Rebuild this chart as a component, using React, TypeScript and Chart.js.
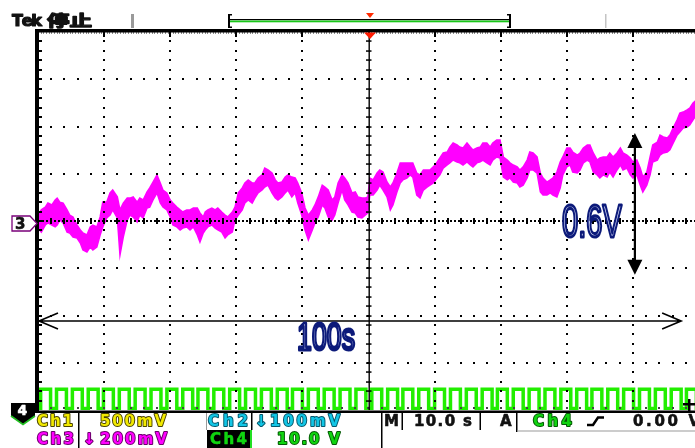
import React, { useEffect, useRef } from "react";
import { Chart, registerables } from "chart.js";

Chart.register(...registerables);

// Ch3 (magenta, 200 mV/div): envelope of the noisy trace, time in s from the left edge
const ch3TimeS = [
  0, 0.5, 1.1, 1.5, 2.1, 2.6, 2.9, 3.3, 3.8, 4.4,
  4.8, 5.3, 5.9, 6.4, 6.8, 7.4, 7.9, 8.3, 8.9, 9.4,
  9.8, 10.4, 10.9, 11.3, 12.0, 12.4, 12.9, 13.5, 13.9, 14.4,
  15.0, 15.4, 15.9, 16.5, 16.9, 17.4, 18.0, 18.5, 18.9, 19.5,
  20.0, 20.4, 21.0, 21.5, 21.9, 22.5, 23.0, 23.5, 24.1, 24.5,
  25.0, 25.3, 25.7, 26.3, 26.8, 27.2, 27.8, 28.3, 28.7, 29.4,
  29.8, 30.3, 30.9, 31.3, 31.8, 32.4, 32.8, 33.3, 33.9, 34.3,
  34.8, 35.4, 35.9, 36.3, 36.9, 37.4, 37.8, 38.4, 38.9, 39.3,
  39.9, 40.4, 40.9, 41.5, 41.9, 42.4, 43.0, 43.4, 43.9, 44.5,
  44.9, 45.4, 46.0, 46.4, 46.9, 47.5, 48.0, 48.4, 49.0, 49.5,
  49.9, 50.2, 50.7, 51.3, 51.7, 52.2, 52.8, 53.3, 53.7, 54.3,
  54.8, 55.2, 55.8, 56.3, 56.7, 57.3, 57.8, 58.3, 58.9, 59.3,
  59.8, 60.4, 60.8, 61.3, 61.9, 62.3, 62.8, 63.4, 63.8, 64.3,
  64.9, 65.4, 65.8, 66.4, 66.9, 67.3, 67.9, 68.4, 68.8, 69.4,
  69.9, 70.4, 71.0, 71.4, 71.9, 72.5, 72.9, 73.4, 74.0, 74.4,
  74.9, 75.5, 76.0, 76.4, 77.0, 77.5, 77.9, 78.5, 79.0, 79.4,
  80.0, 80.5, 80.9, 81.6, 82.0, 82.5, 83.1, 83.5, 84.0, 84.6,
  85.0, 85.5, 86.1, 86.5, 87.0, 87.6, 88.1, 88.5, 89.1, 89.6,
  90.0, 90.6, 91.1, 91.5, 92.1, 92.6, 93.0, 93.7, 94.1, 94.6,
  95.2, 95.6, 96.1, 96.7, 97.1, 97.6, 98.2, 98.6, 99.1, 99.6,
];
const ch3HighMv = [
  25, 47, 59, 76, 68, 89, 97, 80, 76, 47,
  25, 17, -17, -38, -51, -59, -25, -17, -25, 17,
  80, 80, 119, 131, 102, 47, 76, 97, 97, 102,
  80, 97, 89, 123, 140, 165, 195, 161, 131, 119,
  89, 76, 59, 47, 38, 47, 47, 55, 55, 34,
  17, 38, 47, 55, 47, 55, 38, 25, 17, 38,
  59, 119, 140, 161, 174, 161, 161, 182, 195, 224,
  216, 203, 174, 161, 165, 186, 195, 186, 182, 161,
  119, 55, 25, 47, 68, 102, 152, 144, 131, 89,
  102, 161, 195, 182, 161, 119, 123, 102, 97, 97,
  102, 182, 174, 203, 216, 207, 165, 144, 161, 203,
  246, 246, 246, 246, 246, 203, 195, 216, 216, 216,
  229, 250, 267, 288, 292, 313, 330, 322, 313, 309,
  330, 313, 301, 309, 313, 330, 330, 313, 330, 343,
  343, 271, 258, 246, 237, 229, 216, 229, 258, 292,
  288, 271, 203, 182, 165, 174, 182, 207, 250, 271,
  309, 309, 292, 279, 288, 309, 322, 322, 288, 258,
  267, 271, 271, 288, 271, 288, 309, 288, 279, 267,
  250, 258, 224, 186, 207, 271, 322, 334, 364, 356,
  351, 364, 394, 428, 457, 461, 470, 478, 499, 512,
];
const ch3LowMv = [
  -30, -47, -17, -8, -17, -25, -17, 4, -8, -47,
  -51, -68, -72, -93, -123, -131, -110, -123, -110, -59,
  -25, 13, 25, 47, 13, -144, -68, 4, 25, 17,
  -4, 25, 13, 55, 59, 89, 119, 76, 59, 47,
  17, -17, -25, -38, -30, -25, -38, -25, -59, -89,
  -51, -38, -25, -17, -30, -38, -47, -72, -59, -47,
  4, 25, 47, 76, 89, 76, 97, 119, 131, 144,
  152, 119, 97, 89, 102, 119, 131, 102, 119, 76,
  25, -38, -80, -38, -8, 17, 68, 55, 17, 4,
  25, 76, 131, 89, 68, 38, 34, 17, 13, 25,
  34, 110, 110, 131, 152, 131, 102, 47, 68, 123,
  161, 174, 182, 195, 186, 110, 97, 131, 144, 152,
  161, 182, 195, 224, 237, 246, 258, 250, 246, 237,
  250, 237, 229, 246, 250, 258, 246, 237, 258, 271,
  267, 186, 174, 182, 165, 161, 144, 152, 182, 216,
  216, 203, 123, 110, 110, 119, 110, 102, 140, 195,
  229, 237, 207, 203, 216, 246, 258, 250, 207, 195,
  182, 195, 186, 207, 186, 216, 237, 216, 224, 195,
  182, 195, 152, 123, 152, 195, 250, 258, 279, 288,
  292, 301, 330, 364, 377, 394, 398, 406, 428, 449,
];

// Ch4 (green, 10 V/div): clock, rising edge times in s
const ch4RisingS = [
  0.4, 2.8, 5.2, 7.6, 9.9, 12.3, 14.7, 17.1, 19.5, 21.9,
  24.2, 26.6, 29.0, 31.4, 33.8, 36.2, 38.5, 40.9, 43.3, 45.7,
  48.1, 50.5, 52.9, 55.2, 57.6, 60.0, 62.4, 64.8, 67.2, 69.5,
  71.9, 74.3, 76.7, 79.1, 81.5, 83.8, 86.2, 88.6, 91.0, 93.4,
  95.8, 98.1,
];
const ch4HighDurationS = 1.5;
const ch4HighV = 4.4;
const ch4LowV = 0.3;

// scope settings
const timeSpanS = 100; // 10 s/div x 10 div
const ch3VoltsPerDiv = 0.2;
const ch4VoltsPerDiv = 10;
const ch4GroundDiv = -4;
const yHalfDivs = 4;

// annotations
const measTimeS = 90.3;
const measTopV = 0.372;
const measDeltaV = 0.6;
const spanArrowV = -0.423;
const spanArrowEndS = 97.3;

// ---------------- drawing helpers ----------------
const MAG = "#ff00ff";
const GRN = "#22ee00";
const NAVY = "#0c1a7a";
const SF = "bold 15px 'DejaVu Sans'";

function spaced(ctx: any, text: string, x: number, y: number, width: number, font: string, fill: string, stroke?: string, sw = 2) {
  ctx.save();
  ctx.font = font;
  ctx.textAlign = "left";
  ctx.textBaseline = "alphabetic";
  const chars = Array.from(text);
  const ws = chars.map((c) => ctx.measureText(c).width);
  const total = ws.reduce((a: number, b: number) => a + b, 0);
  const gap = chars.length > 1 ? (width - total) / (chars.length - 1) : 0;
  const pass = (fn: (c: string, cx: number) => void) => {
    let cx = x;
    chars.forEach((c, i) => {
      fn(c, cx);
      cx += ws[i] + gap;
    });
  };
  ctx.strokeStyle = stroke || fill;
  ctx.lineWidth = stroke ? sw : 0.6;
  ctx.lineJoin = "round";
  pass((c, cx) => ctx.strokeText(c, cx, y));
  ctx.fillStyle = fill;
  pass((c, cx) => ctx.fillText(c, cx, y));
  ctx.restore();
}

function scaled(ctx: any, text: string, x: number, y: number, width: number, font: string, fill: string, stroke?: string, sw = 2) {
  ctx.save();
  ctx.font = font;
  ctx.textAlign = "left";
  ctx.textBaseline = "alphabetic";
  const w = ctx.measureText(text).width;
  ctx.translate(x, y);
  ctx.scale(width / w, 1);
  ctx.fillStyle = fill;
  ctx.fillText(text, 0, 0);
  if (stroke) {
    ctx.strokeStyle = stroke;
    ctx.lineWidth = sw;
    ctx.lineJoin = "round";
    ctx.strokeText(text, 0, 0);
  }
  ctx.restore();
}

const scopePlugin = {
  id: "scope",
  beforeDraw(chart: any) {
    const ctx = chart.ctx;
    ctx.save();
    ctx.fillStyle = "#ffffff";
    ctx.fillRect(0, 0, chart.width, chart.height);
    ctx.restore();
  },
  afterDatasetsDraw(chart: any) {
    const ctx = chart.ctx;
    const { left, right, top, bottom } = chart.chartArea;
    const dx = (right - left) / 10;
    const dy = (bottom - top) / 8;
    const cx = left + 5 * dx;
    const cy = top + 4 * dy;
    ctx.save();
    ctx.fillStyle = "#000";
    for (let k = 1; k < 10; k++) {
      if (k === 5) continue;
      const x = Math.round(left + k * dx);
      for (let j = 1; j < 40; j++) ctx.fillRect(x - 1, Math.round(top + (j * dy) / 5) - 1, 2, 2);
    }
    for (let j = 1; j < 8; j++) {
      if (j === 4) continue;
      const y = Math.round(top + j * dy);
      for (let k = 1; k < 50; k++) ctx.fillRect(Math.round(left + (k * dx) / 5) - 1, y - 1, 2, 2);
    }
    for (let j = 1; j < 40; j++) ctx.fillRect(left + 1, Math.round(top + (j * dy) / 5) - 1, 3, 2);
    ctx.fillStyle = "#444";
    for (let k = 1; k < 50; k++) ctx.fillRect(Math.round(left + (k * dx) / 5) - 1, bottom - 3, 2, 2);
    ctx.fillStyle = "#8a8a8a";
    for (let x = left; x < right; x += dx / 25) ctx.fillRect(Math.round(x), top, 1, 2);
    ctx.fillStyle = "#000";
    for (let k = 1; k < 10; k++) ctx.fillRect(Math.round(left + k * dx) - 1, top, 2, 5);
    ctx.fillRect(Math.round(cx) - 0.5, top, 1.4, bottom - top);
    for (let j = 1; j < 40; j++) ctx.fillRect(cx - 2.5, Math.round(top + (j * dy) / 5) - 0.7, 5.5, 1.5);
    ctx.strokeStyle = "#000";
    ctx.lineWidth = 2;
    ctx.setLineDash([2, 2]);
    ctx.beginPath();
    ctx.moveTo(left, cy);
    ctx.lineTo(right, cy);
    ctx.stroke();
    ctx.setLineDash([]);
    for (let k = 1; k < 50; k++) ctx.fillRect(Math.round(left + (k * dx) / 5) - 1, cy - 3, 2, 6);
    ctx.restore();
  },
  afterDraw(chart: any) {
    const ctx = chart.ctx;
    const xs = chart.scales.x;
    const ys = chart.scales.y;
    const { top, bottom } = chart.chartArea;
    ctx.save();
    ctx.fillStyle = "#000";
    ctx.fillRect(35, top - 3, 670, 3.5);
    ctx.fillRect(35, top - 3, 4, bottom + 3 - (top - 3));
    ctx.fillRect(35, bottom + 0.5, 670, 2.5);

    ctx.fillStyle = "#ff1a00";
    ctx.beginPath();
    ctx.moveTo(364, top + 0.5);
    ctx.lineTo(376, top + 0.5);
    ctx.lineTo(370, top + 7);
    ctx.closePath();
    ctx.fill();

    // ---- top status bar ----
    spaced(ctx, "Tek", 12, 25.5, 30, "bold 16px 'DejaVu Sans'", "#111", "#111", 1.2);
    scaled(ctx, "停止", 47, 26, 45, "bold 15px 'Noto Sans CJK SC'", "#111", "#111", 1.3);
    ctx.fillStyle = "#9a9a9a";
    ctx.fillRect(131, 14, 3, 14);
    ctx.fillStyle = "#c4c4c4";
    ctx.fillRect(605, 14, 1.5, 14);
    ctx.fillStyle = "#000";
    ctx.fillRect(228, 14, 2, 14);
    ctx.fillRect(228, 14, 4, 1.5);
    ctx.fillRect(228, 26.5, 4, 1.5);
    ctx.fillRect(509, 14, 2, 14);
    ctx.fillRect(507, 14, 4, 1.5);
    ctx.fillRect(507, 26.5, 4, 1.5);
    ctx.fillRect(230, 19, 279, 1.2);
    ctx.fillStyle = "#18c818";
    ctx.fillRect(230, 20.5, 279, 1.8);
    ctx.fillStyle = "#ff2a00";
    ctx.beginPath();
    ctx.moveTo(366, 13);
    ctx.lineTo(374, 13);
    ctx.lineTo(370, 18);
    ctx.closePath();
    ctx.fill();

    // ---- channel markers ----
    const c3y = ys.getPixelForValue(0) + 2.5;
    ctx.beginPath();
    ctx.moveTo(12, c3y - 7.5);
    ctx.lineTo(30, c3y - 7.5);
    ctx.lineTo(37, c3y);
    ctx.lineTo(30, c3y + 7.5);
    ctx.lineTo(12, c3y + 7.5);
    ctx.closePath();
    ctx.fillStyle = "#fff";
    ctx.fill();
    ctx.strokeStyle = "#7a007a";
    ctx.lineWidth = 1.3;
    ctx.stroke();
    spaced(ctx, "3", 15, c3y + 5.5, 10, "bold 15px 'DejaVu Sans'", "#111");

    ctx.beginPath();
    ctx.moveTo(11, 403);
    ctx.lineTo(35, 403);
    ctx.lineTo(35, 416);
    ctx.lineTo(23, 424.5);
    ctx.lineTo(11, 416);
    ctx.closePath();
    ctx.fillStyle = "#000";
    ctx.fill();
    ctx.strokeStyle = "#22c022";
    ctx.lineWidth = 1.6;
    ctx.beginPath();
    ctx.moveTo(11, 416);
    ctx.lineTo(23, 424.5);
    ctx.lineTo(35, 416);
    ctx.stroke();
    spaced(ctx, "4", 17.5, 414.5, 10, "bold 14px 'DejaVu Sans'", "#fff");

    ctx.fillStyle = "#000";
    ctx.fillRect(683, 403, 12, 2.5);
    ctx.fillRect(688, 399, 2.5, 12);

    // ---- bottom status area ----
    ctx.fillStyle = "#000";
    ctx.fillRect(78, 413, 1.5, 35);
    ctx.fillRect(251, 413, 1.5, 17);
    ctx.fillRect(381, 413, 1.5, 35);
    ctx.fillRect(401.5, 413, 1.5, 17);
    ctx.fillRect(479.5, 413, 1.5, 17);
    ctx.fillRect(516, 413, 1.5, 19);
    ctx.fillStyle = "#9a9a9a";
    ctx.fillRect(206, 413, 1, 17);
    ctx.fillRect(517, 430.5, 180, 1);

    const Y = "#f2ea00", YS = "#4a4400";
    const C = "#12c6e6", CS = "#05586c";
    const MS = "#6a006a";
    const G = "#10d410", GS = "#045a04";
    spaced(ctx, "Ch1", 37, 426, 36, SF, Y, YS);
    spaced(ctx, "500mV", 100, 426, 66, SF, Y, YS);
    spaced(ctx, "Ch2", 208, 426, 40, SF, C, CS);
    spaced(ctx, "↓", 255, 426, 8, SF, C, CS);
    spaced(ctx, "100mV", 270, 426, 70, SF, C, CS);
    spaced(ctx, "M", 384, 426, 13, SF, "#111");
    spaced(ctx, "10.0 s", 414, 426, 58, SF, "#111");
    spaced(ctx, "A", 500, 426, 15, SF, "#111");
    spaced(ctx, "Ch4", 533, 426, 39, SF, G, GS);
    ctx.strokeStyle = "#000";
    ctx.lineWidth = 2.5;
    ctx.beginPath();
    ctx.moveTo(587, 425);
    ctx.lineTo(593, 425);
    ctx.lineTo(598, 417.5);
    ctx.lineTo(604, 417.5);
    ctx.stroke();
    spaced(ctx, "0.00 V", 633, 426, 67, SF, "#111");

    spaced(ctx, "Ch3", 37, 443.5, 37, SF, MAG, MS);
    spaced(ctx, "↓", 83, 443.5, 8, SF, MAG, MS);
    spaced(ctx, "200mV", 100, 443.5, 67, SF, MAG, MS);
    ctx.fillStyle = "#000";
    ctx.fillRect(207, 430, 43, 18);
    ctx.fillStyle = "#22e022";
    ctx.fillRect(250, 430, 2, 18);
    spaced(ctx, "Ch4", 210, 443.5, 37, SF, G);
    spaced(ctx, "10.0 V", 277, 443.5, 63, SF, G, GS);

    // ---- annotations ----
    const ax = xs.getPixelForValue(measTimeS);
    const aTop = ys.getPixelForValue(measTopV / ch3VoltsPerDiv);
    const aBot = ys.getPixelForValue((measTopV - measDeltaV) / ch3VoltsPerDiv);
    ctx.strokeStyle = "#000";
    ctx.fillStyle = "#000";
    ctx.lineWidth = 2.2;
    ctx.beginPath();
    ctx.moveTo(ax, aTop + 10);
    ctx.lineTo(ax, aBot - 10);
    ctx.stroke();
    ctx.beginPath();
    ctx.moveTo(ax, aTop);
    ctx.lineTo(ax - 7.5, aTop + 15);
    ctx.lineTo(ax + 7.5, aTop + 15);
    ctx.closePath();
    ctx.fill();
    ctx.beginPath();
    ctx.moveTo(ax, aBot);
    ctx.lineTo(ax - 7.5, aBot - 15);
    ctx.lineTo(ax + 7.5, aBot - 15);
    ctx.closePath();
    ctx.fill();
    scaled(ctx, "0.6V", 562, 237, 60, "47px 'Liberation Sans'", "#dfe4ff", NAVY, 3.2);

    const hy = ys.getPixelForValue(spanArrowV / ch3VoltsPerDiv);
    const hx0 = xs.getPixelForValue(0) + 1;
    const hx1 = xs.getPixelForValue(spanArrowEndS);
    ctx.strokeStyle = "#000";
    ctx.lineWidth = 1.6;
    ctx.beginPath();
    ctx.moveTo(hx0, hy);
    ctx.lineTo(hx1, hy);
    ctx.moveTo(hx0 + 19, hy - 8);
    ctx.lineTo(hx0, hy);
    ctx.lineTo(hx0 + 19, hy + 8);
    ctx.moveTo(hx1 - 19, hy - 8);
    ctx.lineTo(hx1, hy);
    ctx.lineTo(hx1 - 19, hy + 8);
    ctx.stroke();
    scaled(ctx, "100s", 297, 350, 58, "38px 'Liberation Sans'", "#dfe4ff", NAVY, 3);

    ctx.restore();
  },
};

export default function App() {
  const ref = useRef<HTMLCanvasElement | null>(null);

  useEffect(() => {
    if (!ref.current) return;
    const n = Math.min(ch3TimeS.length, ch3HighMv.length, ch3LowMv.length);
    const hi = [];
    const lo = [];
    for (let i = 0; i < n; i++) {
      hi.push({ x: ch3TimeS[i], y: ch3HighMv[i] / 1000 / ch3VoltsPerDiv });
      lo.push({ x: ch3TimeS[i], y: ch3LowMv[i] / 1000 / ch3VoltsPerDiv });
    }
    const lowDiv = ch4LowV / ch4VoltsPerDiv + ch4GroundDiv;
    const highDiv = ch4HighV / ch4VoltsPerDiv + ch4GroundDiv;
    const clk: any[] = [{ x: 0, y: lowDiv }];
    ch4RisingS.forEach((r) => {
      const f = r + ch4HighDurationS;
      clk.push({ x: r, y: lowDiv }, { x: r, y: highDiv }, { x: f, y: highDiv }, { x: f, y: lowDiv });
    });
    clk.push({ x: timeSpanS, y: lowDiv });

    const chart = new Chart(ref.current, {
      type: "line",
      data: {
        datasets: [
          { data: hi, borderColor: MAG, borderWidth: 1.5, pointRadius: 0, fill: false, tension: 0 },
          { data: lo, borderColor: MAG, borderWidth: 1.5, pointRadius: 0, fill: "-1", backgroundColor: MAG, tension: 0 },
          { data: clk, borderColor: GRN, borderWidth: 3.5, pointRadius: 0, fill: false, tension: 0 },
        ],
      },
      options: {
        animation: false,
        responsive: false,
        devicePixelRatio: 1,
        events: [],
        layout: { padding: { left: 38, top: 32, right: 7, bottom: 38 } },
        scales: {
          x: { type: "linear", min: 0, max: timeSpanS, display: false },
          y: { type: "linear", min: -yHalfDivs, max: yHalfDivs, display: false },
        },
        plugins: { legend: { display: false }, tooltip: { enabled: false } },
      },
      plugins: [scopePlugin],
    } as any);
    return () => chart.destroy();
  }, []);

  return (
    <div style={{ position: "fixed", left: 0, top: 0, width: 695, height: 448, overflow: "hidden", background: "#fff" }}>
      <canvas ref={ref} width={706} height={448} style={{ display: "block", width: 706, height: 448 }} />
    </div>
  );
}
